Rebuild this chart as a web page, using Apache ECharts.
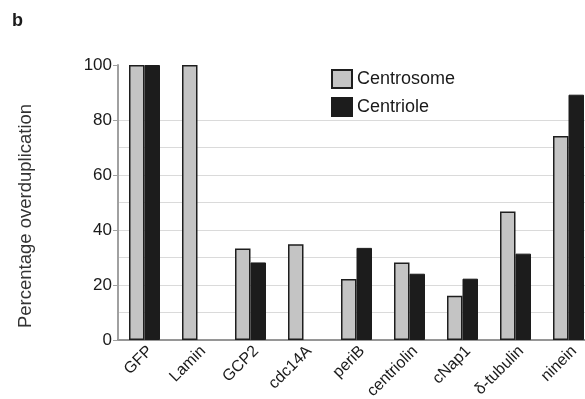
<!DOCTYPE html>
<html>
<head>
<meta charset="utf-8">
<script src="https://cdn.jsdelivr.net/npm/echarts@6/dist/echarts.min.js"></script>
<style>
  html, body { margin: 0; padding: 0; background: #fff; overflow: hidden; }
  #chart { width: 600px; height: 399px; }
</style>
</head>
<body>
<div id="chart"></div>
<script>
// Overduplication by construct
var categories = ['GFP', 'Lamin', 'GCP2', 'cdc14A', 'periB', 'centriolin', 'cNap1', 'δ-tubulin', 'ninein'];
var centrosome = [100, 100, 33.3, 34.8, 22.2, 28.2, 16.1, 46.7, 74.2];
var centriole  = [100, null, 28.2, null, 33.5, 24.1, 22.3, 31.4, 89.2];
var yTicks = [0, 20, 40, 60, 80, 100];
var gridValues = [10, 20, 30, 40, 50, 60, 70, 80];
var yTitle = 'Percentage overduplication';

var font = 'Liberation Sans, Arial, Helvetica, sans-serif';
var ink = '#1a1a1a';
var chart = echarts.init(document.getElementById('chart'), null, { renderer: 'canvas' });

chart.setOption({
  animation: false,
  backgroundColor: '#fff',
  textStyle: { fontFamily: font },
  // the last category runs slightly past the right edge of the view
  grid: {
    left: 118, right: 5, top: 65, bottom: 59,
    containLabel: false, outerBoundsMode: 'none'
  },
  title: {
    text: 'b', left: 7, top: 7,
    textStyle: { fontSize: 18, fontWeight: 'bold', color: ink, fontFamily: font }
  },
  graphic: [{
    type: 'text',
    x: 26, y: 216, rotation: Math.PI / 2,
    style: {
      text: yTitle, fill: '#333', font: '18.5px ' + font,
      textAlign: 'center', textVerticalAlign: 'middle'
    }
  }],
  legend: {
    data: ['Centrosome', 'Centriole'],
    orient: 'vertical', left: 331, top: 69,
    itemWidth: 20, itemHeight: 18, itemGap: 8,
    icon: 'rect',
    padding: 0,
    textStyle: { fontSize: 18, color: ink, fontFamily: font }
  },
  xAxis: [
    {
      type: 'category',
      data: categories,
      axisLine: { lineStyle: { color: '#8a8a8a', width: 2 } },
      axisTick: { show: false },
      axisLabel: {
        rotate: 45, fontSize: 16, color: ink, margin: 3, interval: 0,
        verticalAlign: 'top', fontFamily: font
      }
    },
    {
      // top frame line of the plot area
      type: 'category', position: 'top',
      data: categories,
      axisLine: { show: true, lineStyle: { color: '#9a9a9a', width: 1.5 } },
      axisTick: { show: false },
      axisLabel: { show: false }
    }
  ],
  yAxis: [
    {
      type: 'value', min: 0, max: 100, interval: 20,
      axisLine: { show: true, lineStyle: { color: '#a0a0a0', width: 2 } },
      axisTick: { show: true, length: 5, lineStyle: { color: '#a0a0a0' } },
      splitLine: { show: false },
      axisLabel: {
        fontSize: 17, color: ink, margin: 6, fontFamily: font,
        customValues: yTicks
      }
    },
    {
      // light horizontal guide lines every 10%
      type: 'value', min: 0, max: 100, interval: 10, position: 'left',
      axisLine: { show: false },
      axisTick: { show: false, customValues: gridValues },
      axisLabel: { show: false, customValues: gridValues },
      splitLine: { show: true, lineStyle: { color: '#dadada', width: 1.2 } }
    }
  ],
  series: [
    {
      name: 'Centrosome', type: 'bar', data: centrosome,
      barWidth: 15.5, barGap: '0%',
      itemStyle: { color: '#c4c4c4', borderColor: '#1e1e1e', borderWidth: 1.5 }
    },
    {
      name: 'Centriole', type: 'bar', data: centriole,
      barWidth: 15.5, barGap: '0%',
      itemStyle: { color: '#1c1c1c', borderColor: '#1c1c1c', borderWidth: 1 }
    }
  ]
});
</script>
</body>
</html>
